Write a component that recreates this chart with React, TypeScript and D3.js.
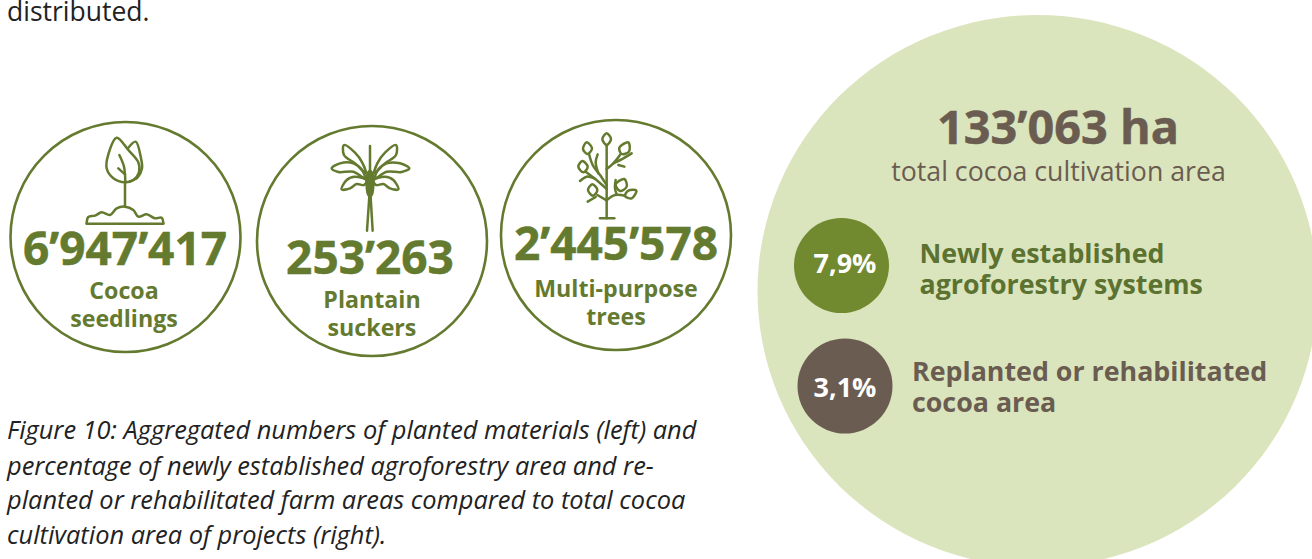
import React from "react";
import * as d3 from "d3";

const plantedValues = ["6’947’417", "253’263", "2’445’578"];
const plantedLabels = [["Cocoa", "seedlings"], ["Plantain", "suckers"], ["Multi-purpose", "trees"]];
const totalArea = "133’063 ha";
const totalLabel = "total cocoa cultivation area";
const shareValues = ["7,9%", "3,1%"];
const shareLabels = [["Newly established", "agroforestry systems"], ["Replanted or rehabilitated", "cocoa area"]];
const captionLines = [
  "Figure 10: Aggregated numbers of planted materials (left) and",
  "percentage of newly established agroforestry area and re-",
  "planted or rehabilitated farm areas compared to total cocoa",
  "cultivation area of projects (right).",
];

const FONT = "'Open Sans', sans-serif";
const OLIVE = "#647a2f";
const BROWN = "#6a5c50";

type P = [number, number];
const open = d3.line<P>().curve(d3.curveCatmullRom.alpha(0.5));
const closed = d3.line<P>().curve(d3.curveCatmullRomClosed.alpha(0.5));
const straight = d3.line<P>();

const ringLayout = [
  { cx: 125.5, cy: 237, numX: 125, numY: 265, l1: 299, l2: 327, lx: 124 },
  { cx: 372, cy: 241, numX: 370, numY: 274, l1: 308, l2: 336, lx: 372 },
  { cx: 616, cy: 235, numX: 616, numY: 260, l1: 297, l2: 325, lx: 616 },
];
const shareLayout = [
  { cx: 841.5, cy: 265.5, fill: "#71892f", text: "#5b7230", tx: 919.5, y1: 262.5, y2: 294 },
  { cx: 845, cy: 386, fill: BROWN, text: BROWN, tx: 912, y1: 381, y2: 412 },
];

const seedling = {
  closed: [
    [[140, 38], [175, 75], [205, 112], [207, 142], [190, 165], [165, 172], [130, 160], [110, 130], [115, 88]],
  ] as P[][],
  open: [
    [[175, 68], [197, 50], [213, 100], [216, 130], [203, 157], [178, 170]],
    [[165, 172], [165, 245]],
    [[148, 90], [162, 125], [166, 172]],
    [[145, 130], [165, 148]],
    [[50, 295], [55, 276], [75, 272], [95, 262], [120, 270], [140, 250], [165, 245], [190, 255], [205, 275], [230, 268], [255, 280], [275, 278], [280, 295]],
    [[50, 296], [280, 296]],
  ] as P[][],
};
const plantain = {
  closed: [
    [[137, 130], [105, 100], [72, 75], [72, 45], [105, 68], [128, 100]],
    [[163, 130], [195, 100], [228, 75], [228, 45], [195, 68], [172, 100]],
    [[135, 145], [100, 125], [55, 126], [35, 115], [60, 100], [100, 100], [125, 118]],
    [[165, 145], [200, 125], [245, 126], [268, 115], [240, 100], [200, 100], [175, 118]],
    [[140, 152], [105, 140], [80, 150], [65, 178], [90, 175], [110, 162], [132, 165]],
    [[160, 152], [195, 140], [220, 150], [235, 178], [210, 175], [190, 162], [168, 165]],
  ] as P[][],
  open: [
    [[150, 48], [150, 150]],
    [[150, 170], [141, 302]],
    [[150, 170], [158, 302]],
  ] as P[][],
  wedge: [[146, 125], [154, 125], [160, 165], [153, 198], [147, 198], [140, 165]] as P[],
};
const tree = {
  closed: [
    [[125, 25], [138, 42], [125, 60], [112, 42]],
    [[65, 52], [81, 70], [68, 87], [54, 72]],
    [[52, 108], [68, 125], [55, 142], [40, 125]],
    [[82, 178], [97, 195], [84, 212], [69, 195]],
    [[190, 52], [192, 80], [170, 87], [163, 68]],
    [[178, 162], [185, 185], [165, 198], [152, 178]],
    [[214, 197], [200, 220], [180, 213], [190, 197]],
  ] as P[][],
  open: [
    [[125, 60], [125, 280]],
    [[105, 280], [148, 280]],
    [[72, 87], [84, 122], [105, 150], [125, 180]],
    [[98, 88], [92, 112], [100, 145]],
    [[62, 140], [88, 160], [125, 192]],
    [[45, 168], [65, 155], [88, 160]],
    [[97, 210], [125, 226]],
    [[68, 230], [92, 216]],
    [[165, 90], [145, 115], [125, 132]],
    [[200, 85], [175, 100], [145, 115]],
    [[178, 125], [160, 120]],
    [[125, 226], [150, 210], [180, 212]],
    [[152, 165], [150, 190], [155, 208]],
  ] as P[][],
};
const icons = [
  { x: 70, y: 125, shape: seedling },
  { x: 320, y: 130, shape: plantain },
  { x: 565, y: 125, shape: tree },
];

export default function App() {
  return (
    <svg
      width={1312}
      height={559}
      viewBox="0 0 1312 559"
      style={{ position: "absolute", left: 0, top: 0, fontFamily: FONT }}
    >
      <rect width={1312} height={559} fill="#fff" />
      <text x={7} y={21} fontSize={26.5} fill="#222">distributed.</text>

      {ringLayout.map((r, i) => (
        <g key={i}>
          <circle cx={r.cx} cy={r.cy} r={115} fill="none" stroke={OLIVE} strokeWidth={2.6} />
          <text x={r.numX} y={r.numY} textAnchor="middle" fontSize={46} fontWeight={700} fill={OLIVE} stroke={OLIVE} strokeWidth={0.5}>
            {plantedValues[i]}
          </text>
          <text x={r.lx} y={r.l1} textAnchor="middle" fontSize={23.2} fontWeight={700} fill={OLIVE}>
            {plantedLabels[i][0]}
          </text>
          <text x={r.lx} y={r.l2} textAnchor="middle" fontSize={23.2} fontWeight={700} fill={OLIVE}>
            {plantedLabels[i][1]}
          </text>
        </g>
      ))}

      {icons.map((ic, i) => (
        <g key={i} transform={`translate(${ic.x},${ic.y}) scale(${1 / 3})`} fill="none" stroke={OLIVE} strokeWidth={7.5} strokeLinejoin="round" strokeLinecap="round">
          {ic.shape.closed.map((pts, j) => (
            <path key={j} d={closed(pts) ?? ""} />
          ))}
          {ic.shape.open.map((pts, j) => (
            <path key={j} d={(pts.length === 2 ? straight : open)(pts) ?? ""} />
          ))}
          {"wedge" in ic.shape && <path d={closed((ic.shape as typeof plantain).wedge) ?? ""} fill={OLIVE} />}
        </g>
      ))}

      {captionLines.map((line, i) => (
        <text key={i} x={7} y={[439, 475, 509, 544][i]} fontSize={25.4} fontStyle="italic" fill="#222">
          {line}
        </text>
      ))}

      <ellipse cx={1037.5} cy={291} rx={280} ry={276} fill="#dbe5bd" />
      <text x={1058} y={143.5} textAnchor="middle" fontSize={46.8} fontWeight={700} fill={BROWN} stroke={BROWN} strokeWidth={0.5}>{totalArea}</text>
      <text x={1058.5} y={181} textAnchor="middle" fontSize={26.7} fill={BROWN}>{totalLabel}</text>

      {shareLayout.map((s, i) => (
        <g key={i}>
          <circle cx={s.cx} cy={s.cy} r={47.5} fill={s.fill} />
          <text x={845} y={i === 0 ? 273 : 397} textAnchor="middle" fontSize={27} fontWeight={700} fill="#fff">
            {shareValues[i]}
          </text>
          <text x={s.tx} y={s.y1} fontSize={26.8} fontWeight={700} fill={s.text}>{shareLabels[i][0]}</text>
          <text x={s.tx} y={s.y2} fontSize={26.8} fontWeight={700} fill={s.text}>{shareLabels[i][1]}</text>
        </g>
      ))}
    </svg>
  );
}
